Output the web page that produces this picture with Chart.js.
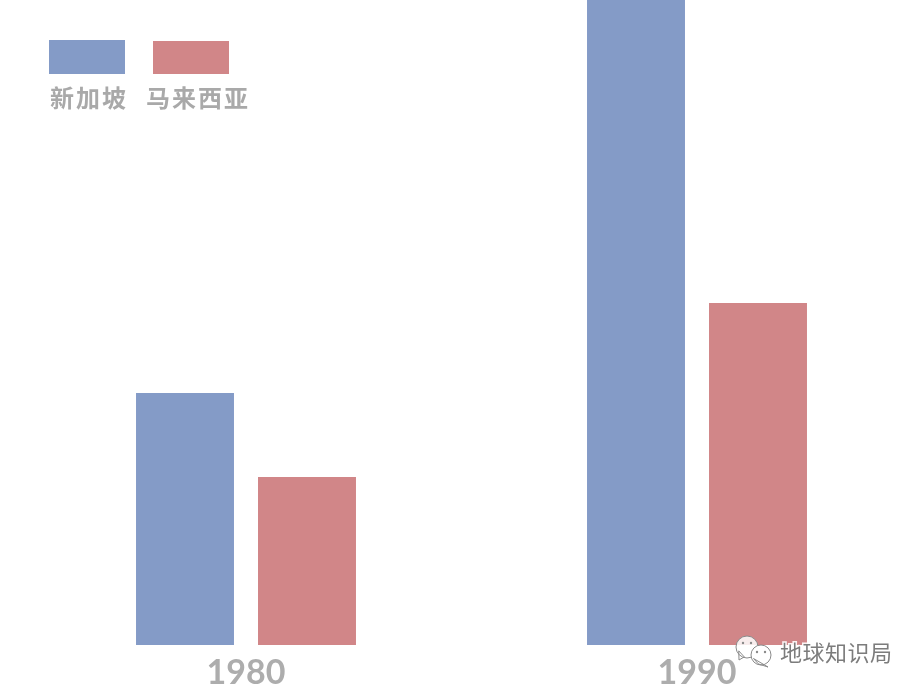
<!DOCTYPE html>
<html>
<head>
<meta charset="utf-8">
<title>新加坡 马来西亚</title>
<script src="https://cdn.jsdelivr.net/npm/chart.js@4/dist/chart.umd.min.js"></script>
<style>
	html, body { margin: 0; padding: 0; background: #fff; overflow: hidden; }
	canvas { display: block; }
</style>
</head>
<body>
<canvas id="chart" width="923" height="694"></canvas>
<script>
let years = ['1980', '1990'];
let singapore = [50.4, 129];
let malaysia = [33.6, 68.4];
let seriesNames = ['新加坡', '马来西亚'];
let seriesColors = ['#849bc7', '#d18688'];
let watermark = '地球知识局';

let cjk = '"Noto Sans CJK SC", sans-serif';

// legend sits above its labels, which the built-in one cannot do
let legendPlugin = {
	id: 'swatchLegend',
	afterDraw(chart) {
		let ctx = chart.ctx;
		let boxes = [[49, 40, 76, 34], [153, 41, 76, 33]];
		let labels = [[50, 98], [146, 98]];
		ctx.save();
		seriesNames.forEach((name, i) => {
			ctx.fillStyle = seriesColors[i];
			ctx.fillRect(...boxes[i]);
			ctx.fillStyle = '#a9a9a9';
			ctx.font = 'bold 24px ' + cjk;
			ctx.letterSpacing = '2px';
			ctx.textAlign = 'left';
			ctx.textBaseline = 'middle';
			ctx.fillText(name, labels[i][0], labels[i][1]);
		});
		ctx.restore();
	},
};

let bubble = (ctx, x, y, r, tailX, tailY, fill) => {
	ctx.beginPath();
	ctx.arc(x, y, r, 0, Math.PI * 2);
	ctx.moveTo(tailX, tailY);
	ctx.lineTo(x - r * 0.75, y + r * 0.35);
	ctx.lineTo(x - r * 0.25, y + r * 0.9);
	ctx.closePath();
	ctx.fillStyle = fill;
	ctx.fill();
	ctx.strokeStyle = '#8a8a8a';
	ctx.lineWidth = 1;
	ctx.stroke();
};

let watermarkPlugin = {
	id: 'watermark',
	afterDraw(chart) {
		let ctx = chart.ctx;
		ctx.save();
		bubble(ctx, 747, 647, 11, 739, 660, 'rgba(255,255,255,0.85)');
		bubble(ctx, 761, 655, 10, 768, 667, '#fff');
		ctx.fillStyle = '#8a8a8a';
		[[743, 643], [751, 643], [757, 652], [765, 652]].forEach(([x, y]) => {
			ctx.beginPath();
			ctx.arc(x, y, 1.2, 0, Math.PI * 2);
			ctx.fill();
		});
		ctx.font = '22px ' + cjk;
		ctx.textAlign = 'left';
		ctx.textBaseline = 'middle';
		ctx.letterSpacing = '0.5px';
		ctx.strokeStyle = 'rgba(255,255,255,0.9)';
		ctx.lineWidth = 3;
		ctx.strokeText(watermark, 780, 653);
		ctx.fillStyle = '#7c7c7c';
		ctx.fillText(watermark, 780, 653);
		ctx.restore();
	},
};

new Chart(document.getElementById('chart'), {
	type: 'bar',
	data: {
		labels: years,
		datasets: [
			{label: seriesNames[0], data: singapore, backgroundColor: seriesColors[0]},
			{label: seriesNames[1], data: malaysia, backgroundColor: seriesColors[1]},
		],
	},
	options: {
		responsive: false,
		animation: false,
		categoryPercentage: 0.541,
		barPercentage: 0.803,
		layout: {padding: {left: 20.5, right: 0.5, top: 0, bottom: 0}},
		plugins: {
			legend: {display: false},
			tooltip: {enabled: false},
		},
		scales: {
			x: {
				grid: {display: false},
				border: {display: false},
				afterFit(scale) {
					scale.height = 49;
				},
				ticks: {
					color: '#adadad',
					font: {family: 'Lato, sans-serif', size: 34, weight: 'bold'},
					padding: 0,
					maxRotation: 0,
				},
			},
			y: {
				display: false,
				min: 0,
				max: 129,
			},
		},
	},
	plugins: [legendPlugin, watermarkPlugin],
});
</script>
</body>
</html>
